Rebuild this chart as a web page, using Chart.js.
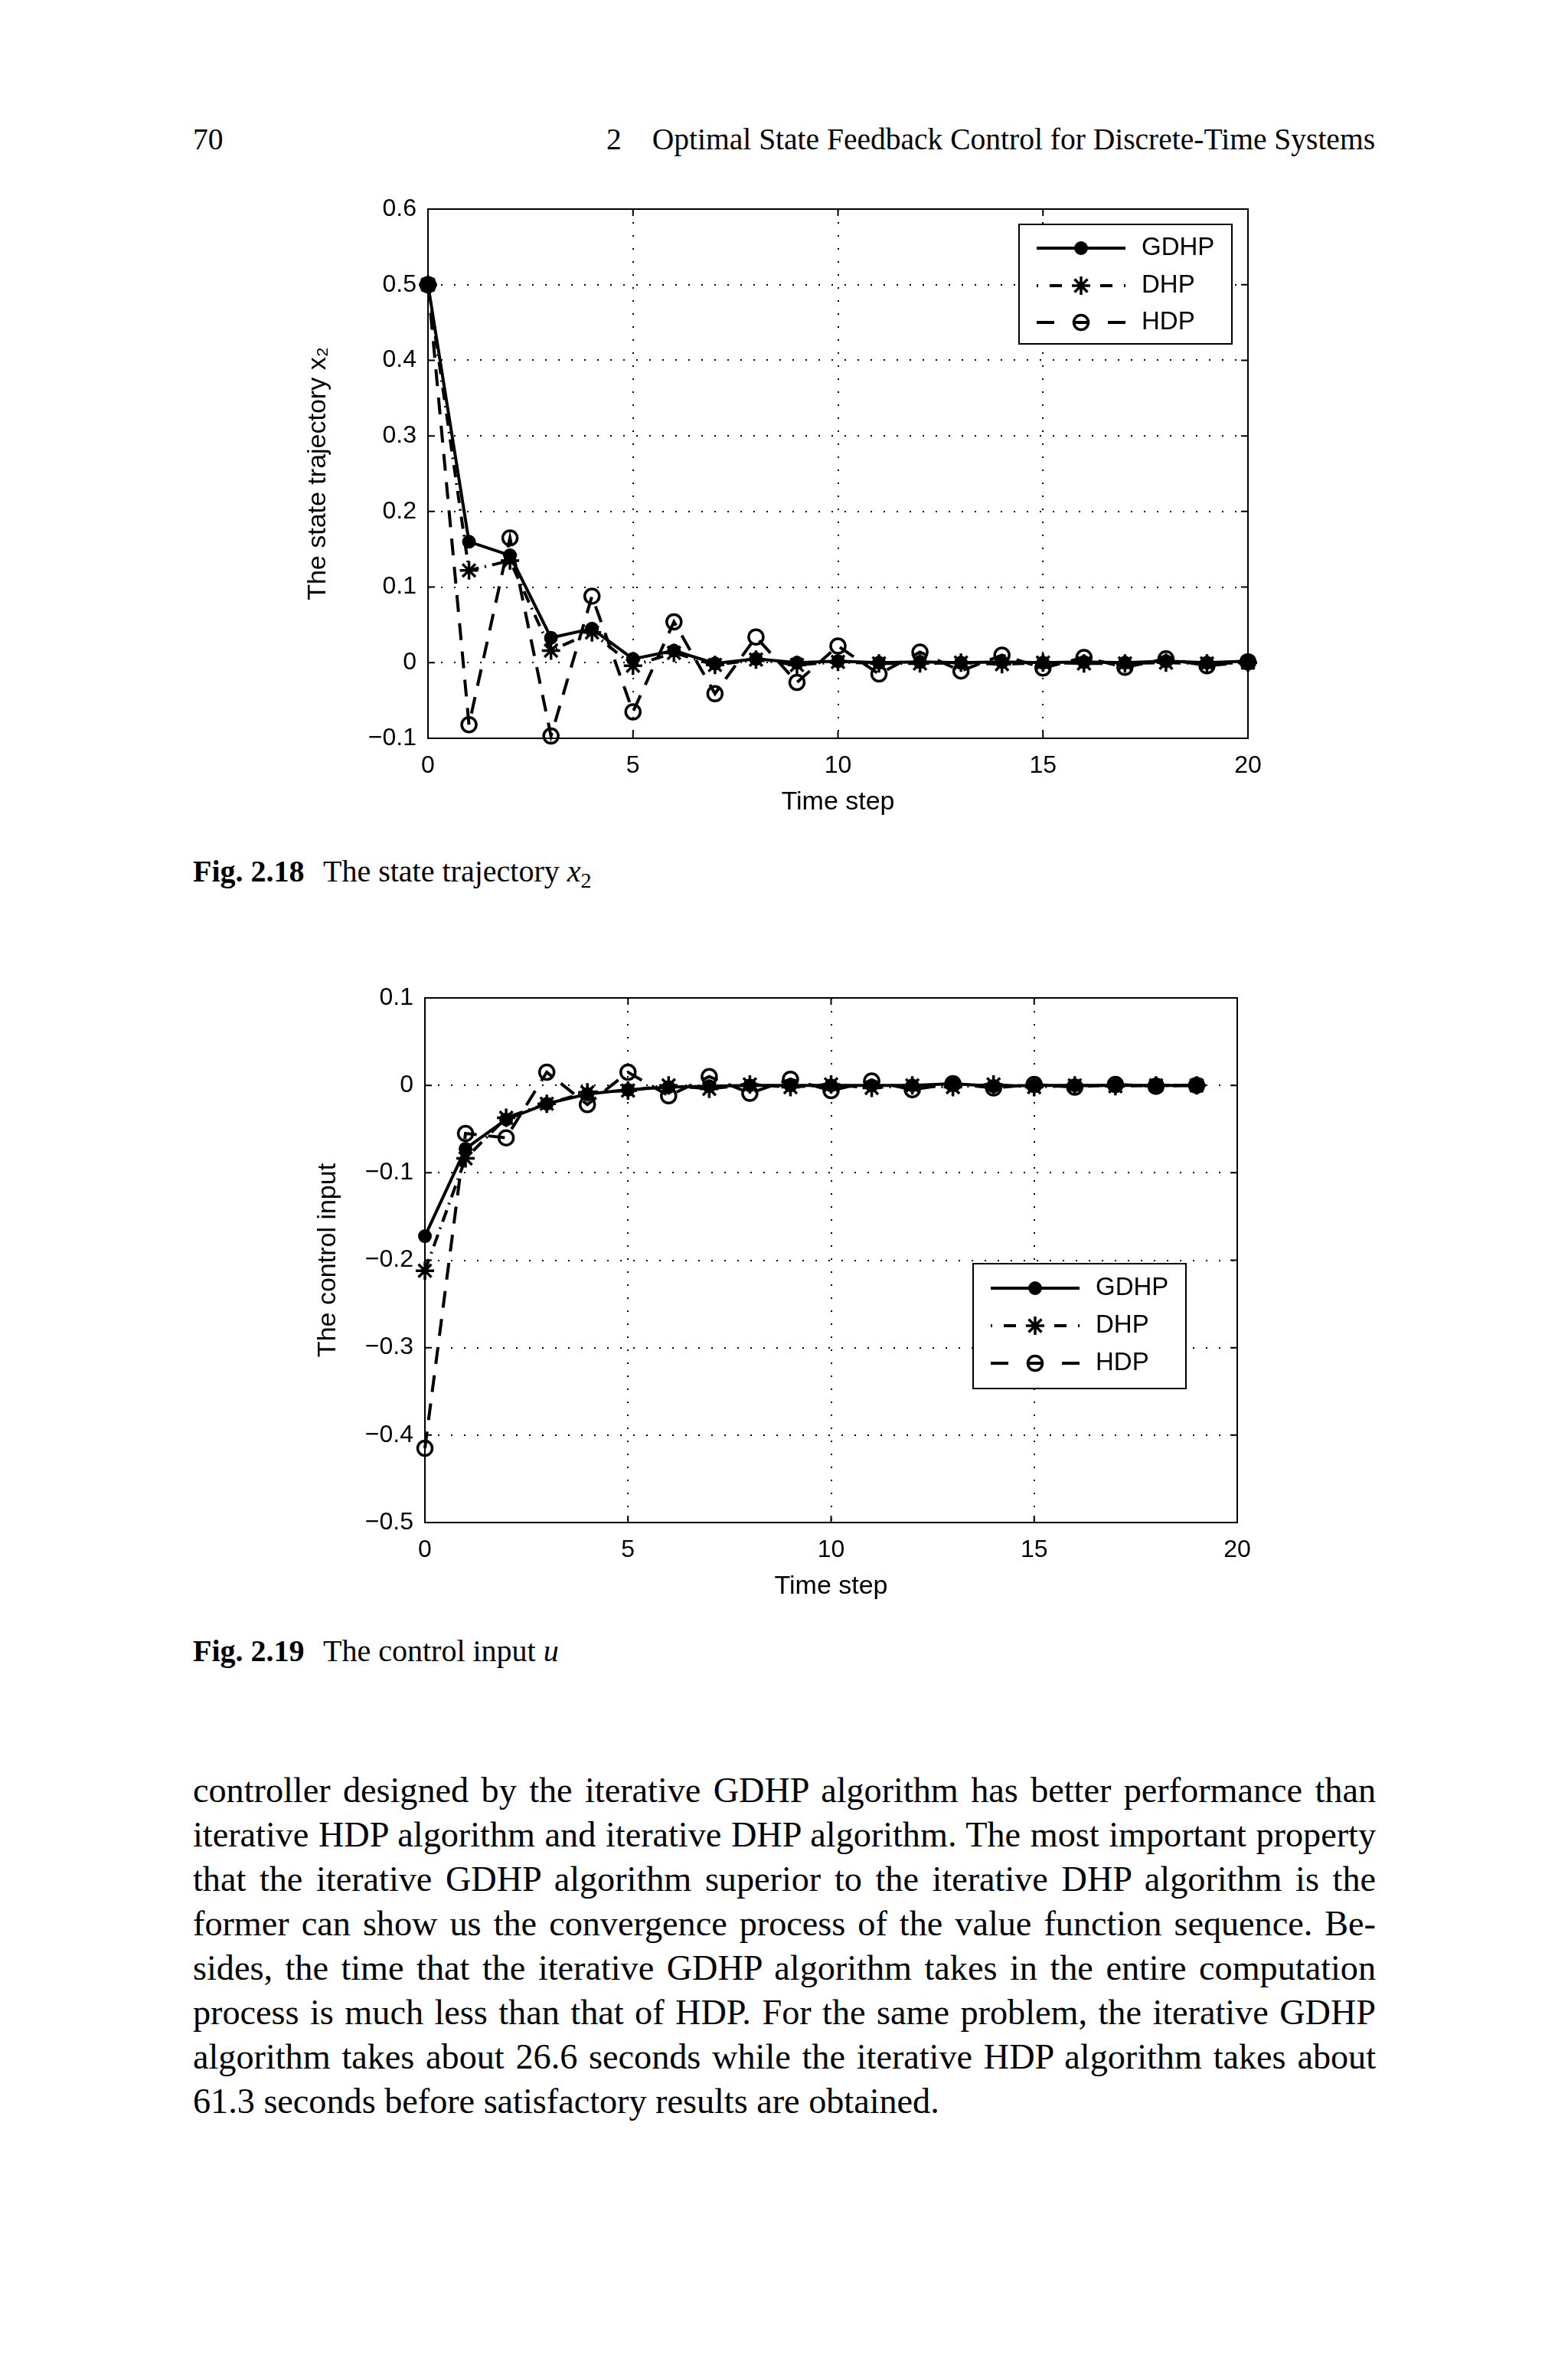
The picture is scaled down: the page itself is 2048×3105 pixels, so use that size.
<!DOCTYPE html>
<html>
<head>
<meta charset="utf-8">
<script src="https://cdn.jsdelivr.net/npm/chart.js@4.4.1/dist/chart.umd.min.js"></script>
<style>
  html, body { margin: 0; padding: 0; background: #fff; }
  body { width: 2048px; height: 3105px; position: relative; overflow: hidden; color: #000;
         font-family: "Liberation Serif", "Times New Roman", serif; }
  .abs { position: absolute; white-space: nowrap; }
  .head { font-size: 39.5px; line-height: 48px; }
  .cap { font-size: 40px; line-height: 48px; left: 252px; }
  .cap b { display: inline-block; width: 170px; }
  .cap sub { font-size: 28px; vertical-align: -8px; line-height: 0; }
  #body { left: 252px; top: 2309px; width: 1545px; font-size: 46.2px; line-height: 58px; }
  #body div { text-align: justify; text-align-last: justify; white-space: nowrap; }
  #body div.last { text-align-last: left; }
  canvas { position: absolute; }
</style>
</head>
<body>

<div class="abs head" style="left:252px; top:158px;">70</div>
<div class="abs head" style="left:792px; top:158px;">2</div>
<div class="abs head" style="right:252px; top:158px;">Optimal State Feedback Control for Discrete-Time Systems</div>

<canvas id="chartX2" width="1300" height="830" style="left:380px; top:250px;"></canvas>
<div class="abs cap" style="top:1114px;"><b>Fig. 2.18</b>The state trajectory <i>x</i><sub>2</sub></div>

<canvas id="chartU" width="1300" height="824" style="left:380px; top:1280px;"></canvas>
<div class="abs cap" style="top:2132px;"><b>Fig. 2.19</b>The control input <i>u</i></div>

<div id="body" class="abs">
  <div>controller designed by the iterative GDHP algorithm has better performance than</div>
  <div>iterative HDP algorithm and iterative DHP algorithm. The most important property</div>
  <div>that the iterative GDHP algorithm superior to the iterative DHP algorithm is the</div>
  <div>former can show us the convergence process of the value function sequence. Be-</div>
  <div>sides, the time that the iterative GDHP algorithm takes in the entire computation</div>
  <div>process is much less than that of HDP. For the same problem, the iterative GDHP</div>
  <div>algorithm takes about 26.6 seconds while the iterative HDP algorithm takes about</div>
  <div class="last">61.3 seconds before satisfactory results are obtained.</div>
</div>

<script>
// Fig. 2.18 - state trajectory x2
const steps1 = [0, 1, 2, 3, 4, 5, 6, 7, 8, 9, 10, 11, 12, 13, 14, 15, 16, 17, 18, 19, 20];
const gdhpX2 = [0.5, 0.160, 0.142, 0.033, 0.045, 0.005, 0.016, -0.001, 0.005, 0.000, 0.002, 0.000, 0.001, 0.000, 0.001, 0.000, 0.001, 0.000, 0.002, 0.000, 0.002];
const dhpX2  = [0.5, 0.122, 0.135, 0.016, 0.040, -0.004, 0.013, -0.003, 0.004, -0.003, 0.001, -0.001, -0.001, 0.000, -0.002, 0.000, -0.001, -0.001, 0.000, -0.001, 0.000];
const hdpX2  = [0.5, -0.082, 0.165, -0.097, 0.088, -0.065, 0.054, -0.041, 0.034, -0.026, 0.022, -0.015, 0.014, -0.011, 0.010, -0.007, 0.007, -0.006, 0.005, -0.004, 0.001];
const yTicksX2 = [-0.1, 0, 0.1, 0.2, 0.3, 0.4, 0.5, 0.6];

// Fig. 2.19 - control input u
const steps2 = [0, 1, 2, 3, 4, 5, 6, 7, 8, 9, 10, 11, 12, 13, 14, 15, 16, 17, 18, 19];
const gdhpU = [-0.1725, -0.0725, -0.039, -0.021, -0.010, -0.005, -0.002, -0.001, 0.000, 0.000, 0.000, 0.000, 0.000, 0.002, -0.001, 0.000, 0.000, 0.000, 0.000, 0.000];
const dhpU  = [-0.212, -0.0835, -0.037, -0.021, -0.008, -0.006, 0.000, -0.004, 0.001, -0.002, 0.001, -0.003, 0.000, -0.002, 0.001, -0.002, 0.000, -0.001, 0.000, 0.000];
const hdpU  = [-0.415, -0.055, -0.060, 0.015, -0.022, 0.015, -0.012, 0.010, -0.009, 0.007, -0.006, 0.005, -0.005, 0.002, -0.003, 0.001, -0.002, 0.001, -0.001, 0.000];
const yTicksU = [-0.5, -0.4, -0.3, -0.2, -0.1, 0, 0.1];

const xTicks = [0, 5, 10, 15, 20];
const seriesNames = ['GDHP', 'DHP', 'HDP'];

Chart.defaults.font.family = '"Liberation Sans", Arial, sans-serif';
Chart.defaults.color = '#000';

function fmt(v) {
    if (Math.abs(v) < 1e-9) return '0';
    return (v < 0 ? '\u2212' : '') + Math.abs(v).toFixed(1);
}

function drawMarker(ctx, style, fill, x, y, r) {
    ctx.beginPath();
    if (style === 'star') {
        for (let k = 0; k < 4; k++) {
            const a = k * Math.PI / 4;
            ctx.moveTo(x - r * Math.cos(a), y - r * Math.sin(a));
            ctx.lineTo(x + r * Math.cos(a), y + r * Math.sin(a));
        }
        ctx.stroke();
    } else {
        ctx.arc(x, y, r, 0, Math.PI * 2);
        if (fill !== 'transparent') { ctx.fillStyle = fill; ctx.fill(); }
        ctx.stroke();
    }
}

// box, inward ticks and the MATLAB style legend
const frame = {
    id: 'frame',
    afterDraw(chart, args, opts) {
        const { ctx, chartArea: a, scales: { x, y } } = chart;
        ctx.save();
        ctx.strokeStyle = '#000';
        ctx.lineWidth = 2;
        ctx.setLineDash([]);
        ctx.strokeRect(a.left, a.top, a.right - a.left, a.bottom - a.top);
        ctx.beginPath();
        x.ticks.forEach(t => {
            const px = x.getPixelForValue(t.value);
            ctx.moveTo(px, a.bottom); ctx.lineTo(px, a.bottom - 9);
            ctx.moveTo(px, a.top); ctx.lineTo(px, a.top + 9);
        });
        y.ticks.forEach(t => {
            const py = y.getPixelForValue(t.value);
            ctx.moveTo(a.left, py); ctx.lineTo(a.left + 9, py);
            ctx.moveTo(a.right, py); ctx.lineTo(a.right - 9, py);
        });
        ctx.stroke();

        const L = opts.legend;
        const bx = a.right - L.right - L.w, by = a.top + L.top;
        ctx.fillStyle = '#fff';
        ctx.fillRect(bx, by, L.w, L.h);
        ctx.strokeRect(bx, by, L.w, L.h);
        chart.data.datasets.forEach((ds, i) => {
            const yy = by + L.rows[i];
            const x0 = bx + 23, x1 = bx + 139, xm = bx + 81;
            ctx.strokeStyle = '#000';
            ctx.lineWidth = ds.borderWidth;
            ctx.setLineDash(L.dash[i]);
            ctx.beginPath(); ctx.moveTo(x0, yy); ctx.lineTo(xm, yy); ctx.stroke();
            ctx.beginPath(); ctx.moveTo(x1, yy); ctx.lineTo(xm, yy); ctx.stroke();
            ctx.setLineDash([]);
            if (L.through[i]) {
                ctx.beginPath();
                ctx.moveTo(xm - ds.pointRadius, yy); ctx.lineTo(xm + ds.pointRadius, yy);
                ctx.stroke();
            }
            ctx.lineWidth = ds.pointBorderWidth;
            drawMarker(ctx, ds.pointStyle, ds.pointBackgroundColor, xm, yy, ds.pointRadius);
            ctx.fillStyle = '#000';
            ctx.font = '33px "Liberation Sans", Arial, sans-serif';
            ctx.textBaseline = 'middle';
            ctx.textAlign = 'left';
            ctx.fillText(ds.label, bx + 160, yy);
        });
        ctx.restore();
    }
};

function makeDatasets(steps, g, d, h) {
    const pts = arr => steps.map((s, i) => ({ x: s, y: arr[i] }));
    return [{
        label: seriesNames[0], data: pts(g),
        borderColor: '#000', borderWidth: 4, borderDash: [],
        pointStyle: 'circle', pointRadius: 8, pointBorderWidth: 2,
        pointBackgroundColor: '#000', pointBorderColor: '#000', clip: false
    }, {
        label: seriesNames[1], data: pts(d),
        borderColor: '#000', borderWidth: 4, borderDash: [16, 8, 2, 8],
        pointStyle: 'star', pointRadius: 12, pointBorderWidth: 3.5,
        pointBackgroundColor: '#000', pointBorderColor: '#000', clip: false
    }, {
        label: seriesNames[2], data: pts(h),
        borderColor: '#000', borderWidth: 4, borderDash: [22, 15],
        pointStyle: 'circle', pointRadius: 9.5, pointBorderWidth: 3.5,
        pointBackgroundColor: 'transparent', pointBorderColor: '#000', clip: false
    }];
}

function makeChart(id, datasets, yTicks, yTitle, yTitlePad, pad, legendPos) {
    const yMin = yTicks[0], yMax = yTicks[yTicks.length - 1];
    new Chart(document.getElementById(id), {
        type: 'line',
        data: { datasets: datasets },
        plugins: [frame],
        options: {
            responsive: false,
            animation: false,
            devicePixelRatio: 1,
            layout: { padding: pad },
            elements: { line: { tension: 0 } },
            plugins: {
                legend: { display: false },
                tooltip: { enabled: false },
                frame: {
                    legend: Object.assign({
                        w: 278,
                        dash: [[], [2, 15, 16, 100], [23, 200]],
                        through: [false, false, true]
                    }, legendPos)
                }
            },
            scales: {
                x: {
                    type: 'linear', min: 0, max: 20,
                    afterBuildTicks: s => { s.ticks = xTicks.map(v => ({ value: v })); },
                    afterFit: s => { s.height = 116; s.paddingLeft = 0; s.paddingRight = 0; },
                    ticks: { font: { size: 32 }, padding: 17, maxRotation: 0, callback: v => String(v) },
                    grid: { color: '#000', lineWidth: 2, drawTicks: false },
                    border: { display: false, dash: [2, 15] },
                    title: { display: true, text: 'Time step', font: { size: 34 }, padding: { top: 0, bottom: 12 } }
                },
                y: {
                    min: yMin, max: yMax,
                    afterBuildTicks: s => { s.ticks = yTicks.map(v => ({ value: v })); },
                    afterFit: s => { s.width = pad.yWidth; s.paddingTop = 0; s.paddingBottom = 0; },
                    ticks: { font: { size: 32 }, padding: 15, callback: v => fmt(v) },
                    grid: { color: '#000', lineWidth: 2, drawTicks: false },
                    border: { display: false, dash: [2, 15] },
                    title: { display: true, text: yTitle, font: { size: 34 }, padding: { top: yTitlePad, bottom: 0 } }
                }
            }
        }
    });
}

makeChart('chartX2', makeDatasets(steps1, gdhpX2, dhpX2, hdpX2), yTicksX2,
    'The state trajectory x\u2082', 15, { top: 23, right: 50, bottom: 0, left: 0, yWidth: 179 },
    { right: 21, top: 20, h: 156, rows: [31, 80, 128] });

makeChart('chartU', makeDatasets(steps2, gdhpU, dhpU, hdpU), yTicksU,
    'The control input', 28, { top: 23, right: 64, bottom: 0, left: 0, yWidth: 175 },
    { right: 67, top: 347, h: 163, rows: [32, 81, 130] });
</script>
</body>
</html>
